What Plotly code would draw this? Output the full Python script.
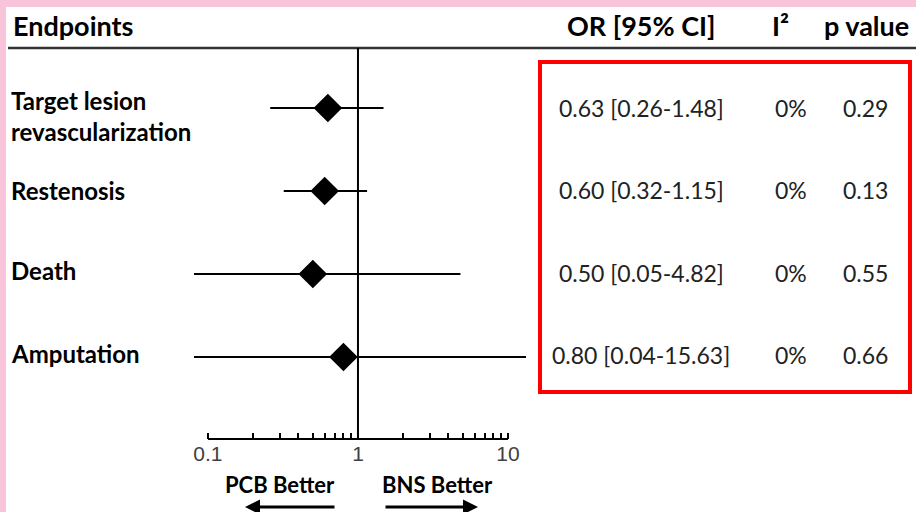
import plotly.graph_objects as go

# ---- data ----
endpoints = ["Target lesion revascularization", "Restenosis", "Death", "Amputation"]
row_labels = ["Target lesion<br>revascularization", "Restenosis", "Death", "Amputation"]
odds_ratio = [0.63, 0.60, 0.50, 0.80]
ci_low = [0.26, 0.32, 0.05, 0.04]
ci_high = [1.48, 1.15, 4.82, 15.63]
i2_values = ["0%", "0%", "0%", "0%"]
p_values = ["0.29", "0.13", "0.55", "0.66"]
or_text = ["0.63 [0.26-1.48]", "0.60 [0.32-1.15]", "0.50 [0.05-4.82]", "0.80 [0.04-15.63]"]
tick_values = [0.1, 0.2, 0.3, 0.4, 0.5, 0.6, 0.7, 0.8, 0.9, 1, 2, 3, 4, 5, 6, 7, 8, 9, 10]
tick_labels = ["0.1"] + [""] * 8 + ["1"] + [""] * 8 + ["10"]

W, H = 916, 512
def px(x):
    return x / W
def py(y):
    return 1 - y / H

FONT = "Lato"

fig = go.Figure()
fig.add_trace(go.Scatter(
    x=odds_ratio, y=endpoints, mode="markers",
    marker=dict(symbol="diamond", size=22, color="black"),
    error_x=dict(type="data", symmetric=False,
                 array=[h - o for h, o in zip(ci_high, odds_ratio)],
                 arrayminus=[o - l for o, l in zip(odds_ratio, ci_low)],
                 thickness=2, width=0, color="black"),
    showlegend=False, cliponaxis=True,
))

AXIS_PX = 439
axis_bottom = py(AXIS_PX)
axis_top = py(48)
# rows at 108 / 191 / 274 / 357 px, 83 px apart
plot_h = AXIS_PX - 48
unit = 83
top_val = 3 + (108 - 48) / unit
bot_val = top_val - plot_h / unit

fig.update_layout(
    width=W, height=H,
    margin=dict(l=0, r=0, t=0, b=0),
    paper_bgcolor="white", plot_bgcolor="rgba(0,0,0,0)",
    xaxis=dict(type="log", domain=[px(194), px(526)], range=[-1.093, 1.12],
               tickvals=tick_values, ticktext=tick_labels,
               ticks="inside", ticklen=6, tickwidth=2, tickcolor="black",
               showline=False, showgrid=False, zeroline=False,
               tickfont=dict(family="Liberation Sans", size=21, color="#404040"),
               fixedrange=True),
    yaxis=dict(type="category", categoryarray=endpoints[::-1],
               domain=[axis_bottom, axis_top], range=[bot_val, top_val],
               showticklabels=False, showgrid=False, zeroline=False,
               showline=False, ticks="", fixedrange=True),
)

shapes = []
# pink frame
shapes.append(dict(type="rect", xref="paper", yref="paper", x0=0, x1=px(6), y0=0, y1=1,
                   fillcolor="#F7C4D9", line=dict(width=0), layer="below"))
shapes.append(dict(type="rect", xref="paper", yref="paper", x0=0, x1=1, y0=py(7), y1=1,
                   fillcolor="#F7C4D9", line=dict(width=0), layer="below"))
# header rule
shapes.append(dict(type="line", xref="paper", yref="paper", x0=px(8), x1=1, y0=py(48), y1=py(48),
                   line=dict(color="#333", width=2.5)))
# axis line 0.1 - 10
shapes.append(dict(type="line", xref="x", yref="paper", x0=0.1, x1=10, y0=axis_bottom, y1=axis_bottom,
                   line=dict(color="black", width=2)))
# no-effect line
shapes.append(dict(type="line", xref="x", yref="paper", x0=1, x1=1, y0=axis_bottom, y1=axis_top,
                   line=dict(color="black", width=2)))
# red box
shapes.append(dict(type="rect", xref="paper", yref="paper", x0=px(540), x1=px(910), y0=py(392), y1=py(62),
                   line=dict(color="#FF0000", width=4), fillcolor="rgba(0,0,0,0)"))
fig.update_layout(shapes=shapes)

ann = []
hdr = dict(family=FONT, size=27, color="black")
ann.append(dict(text="<b>Endpoints</b>", xref="paper", yref="paper", x=px(11), y=py(25),
                xanchor="left", yanchor="middle", showarrow=False, font=hdr))
ann.append(dict(text="<b>OR [95% CI]</b>", xref="paper", yref="paper", x=px(641), y=py(25),
                xanchor="center", yanchor="middle", showarrow=False, font=hdr))
ann.append(dict(text="<b>I²</b>", xref="paper", yref="paper", x=px(780), y=py(25),
                xanchor="center", yanchor="middle", showarrow=False, font=hdr))
ann.append(dict(text="<b>p value</b>", xref="paper", yref="paper", x=px(866), y=py(25),
                xanchor="center", yanchor="middle", showarrow=False, font=hdr))

label_shift = [-8, 1, 4, 4]
text_shift = [0, 1, 1, 2]
for i, ep in enumerate(endpoints):
    ann.append(dict(text="<b>" + row_labels[i] + "</b>", xref="paper", yref="y", x=px(9), y=ep,
                    xanchor="left", yanchor="middle", align="left", showarrow=False, yshift=label_shift[i],
                    font=dict(family=FONT, size=24, color="black")))
    tf = dict(family=FONT, size=23, color="#222")
    ann.append(dict(text=or_text[i], xref="paper", yref="y", x=px(641), y=ep, xanchor="center",
                    yanchor="middle", showarrow=False, font=tf, yshift=text_shift[i]))
    ann.append(dict(text=i2_values[i], xref="paper", yref="y", x=px(791), y=ep, xanchor="center",
                    yanchor="middle", showarrow=False, font=tf, yshift=text_shift[i]))
    ann.append(dict(text=p_values[i], xref="paper", yref="y", x=px(865), y=ep, xanchor="center",
                    yanchor="middle", showarrow=False, font=tf, yshift=text_shift[i]))

bf = dict(family=FONT, size=22, color="black")
ann.append(dict(text="<b>PCB Better</b>", xref="paper", yref="paper", x=px(280), y=py(484),
                xanchor="center", yanchor="middle", showarrow=False, font=bf))
ann.append(dict(text="<b>BNS Better</b>", xref="paper", yref="paper", x=px(437), y=py(484),
                xanchor="center", yanchor="middle", showarrow=False, font=bf))
# arrows
ann.append(dict(text="", xref="paper", yref="paper", x=px(245), y=py(507), ax=91, ay=0,
                showarrow=True, arrowhead=2, arrowsize=1, arrowwidth=3, arrowcolor="black"))
ann.append(dict(text="", xref="paper", yref="paper", x=px(478), y=py(507), ax=-94, ay=0,
                showarrow=True, arrowhead=2, arrowsize=1, arrowwidth=3, arrowcolor="black"))
fig.update_layout(annotations=ann)

fig.write_html("out.html", config={"displayModeBar": False},
               post_script="document.body.style.margin='0';document.body.style.overflow='hidden';")
